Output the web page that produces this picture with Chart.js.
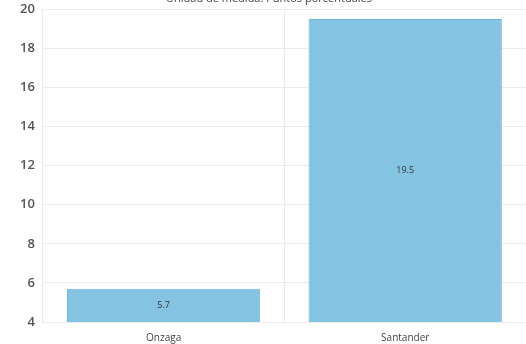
<!DOCTYPE html>
<html>
<head>
<meta charset="utf-8">
<script src="https://cdn.jsdelivr.net/npm/chart.js@4/dist/chart.umd.min.js"></script>
<style>
  body { margin: 0; overflow: hidden; background: #fff; }
  .chart-container { position: absolute; left: 0; top: -8px; width: 526px; height: 362px; }
</style>
</head>
<body>
<div class="chart-container"><canvas id="barChart"></canvas></div>
<script>
const categories = ["Onzaga", "Santander"];
const values = [5.7, 19.5];
const titleText = "Unidad de medida: Puntos porcentuales";

// draws the value in the middle of each bar
const barLabels = {
    id: "barLabels",
    afterDatasetsDraw(chart) {
        const ctx = chart.ctx;
        const meta = chart.getDatasetMeta(0);
        const bottom = chart.chartArea.bottom;
        ctx.save();
        ctx.font = "9px 'Open Sans'";
        ctx.fillStyle = "#333";
        ctx.textAlign = "center";
        ctx.textBaseline = "middle";
        meta.data.forEach((bar, i) => {
            const base = Math.min(bar.base, bottom);
            ctx.fillText(values[i].toFixed(1), bar.x, (bar.y + base) / 2);
        });
        ctx.restore();
    },
};

let ctx = document.getElementById("barChart").getContext("2d");

window.barChart = new Chart(ctx, {
    type: "bar",
    data: {
        labels: categories,
        datasets: [
            {
                data: values,
                backgroundColor: "rgba(126, 192, 226, 0.95)",
                borderColor: "rgb(110, 180, 218)",
                borderWidth: 1,
                categoryPercentage: 0.8,
                barPercentage: 1,
            },
        ],
    },
    plugins: [barLabels],
    options: {
        animation: false,
        maintainAspectRatio: false,
        layout: { padding: { right: 0, bottom: 0, left: 12 } },
        scales: {
            y: {
                min: 4,
                max: 20,
                ticks: {
                    stepSize: 2,
                    color: "#555",
                    padding: 8,
                    font: { family: "Open Sans", size: 13, weight: "600" },
                },
                grid: { color: "#ebebeb", drawTicks: false },
                border: { color: "#ebebeb" },
            },
            x: {
                offset: true,
                ticks: {
                    color: "#444",
                    padding: 10,
                    font: { family: "Open Sans", size: 10 },
                },
                grid: { color: "#ebebeb", offset: true, drawTicks: false },
                border: { color: "#ebebeb" },
            },
        },
        plugins: {
            title: {
                display: true,
                text: titleText,
                color: "#444",
                padding: { top: 0, bottom: 4 },
                font: { family: "Open Sans", size: 11, weight: "normal" },
            },
            legend: { display: false },
            tooltip: { enabled: false },
        },
    },
});
</script>
</body>
</html>
